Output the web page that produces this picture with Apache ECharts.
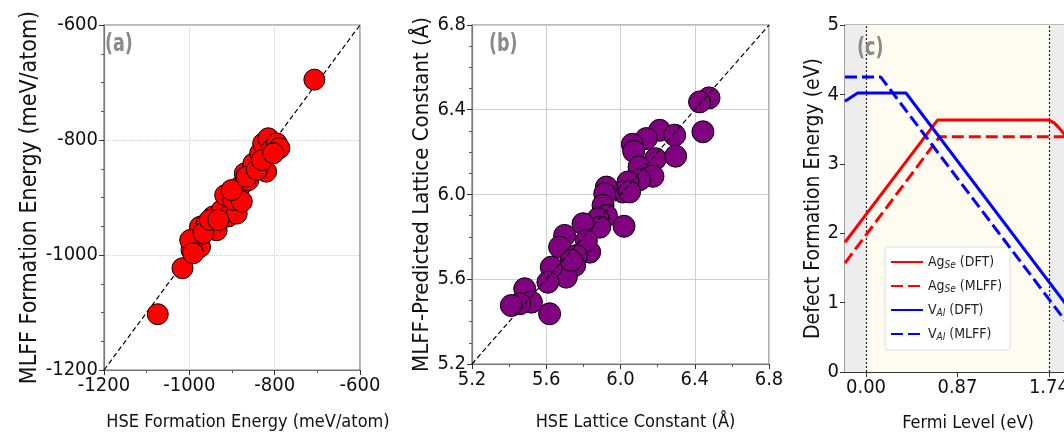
<!DOCTYPE html>
<html><head><meta charset="utf-8">
<script src="https://cdn.jsdelivr.net/npm/echarts@6/dist/echarts.min.js"></script>
<style>html,body{margin:0;padding:0;background:#fff}#c{width:1064px;height:435px}</style>
</head><body><div id="c"></div>
<script>
// Panel (a): formation energies (meV/atom)
const aHSE  = [-707,-1074,-1016,-995,-975,-983,-975,-959,-936,-944,-924,-916,-909,-889,-897,-881,-877,-870,-862,-850,-834,-827,-815,-807,-795,-789,-820,-998,-991,-967,-952,-932,-901,-866,-842,-830,-803];
const aMLFF = [-695,-1103,-1023,-991,-986,-968,-951,-945,-957,-933,-922,-896,-933,-928,-904,-881,-907,-858,-870,-841,-823,-806,-797,-817,-806,-814,-855,-974,-997,-962,-939,-939,-887,-864,-852,-835,-823];
const aRange = [-1200, -600];
// Panel (b): lattice constants (Å)
const bHSE  = [6.477,6.426,6.444,6.211,6.292,6.139,6.064,6.071,6.189,6.297,6.100,6.175,6.103,6.040,6.013,6.049,5.924,5.915,5.906,5.924,5.879,5.888,6.019,5.798,5.834,5.816,5.699,5.672,5.762,5.753,5.708,5.627,5.609,5.618,5.484,5.520,5.457,5.412,5.735];
const bMLFF = [6.456,6.437,6.296,6.303,6.280,6.264,6.237,6.204,6.169,6.181,6.130,6.086,6.070,6.059,6.012,6.012,6.035,6.004,5.949,5.901,5.886,5.846,5.850,5.862,5.728,5.783,5.807,5.752,5.712,5.665,5.610,5.657,5.586,5.437,5.555,5.492,5.484,5.476,5.689];
const bRange = [5.2, 6.8];
// Panel (c): defect formation energy vs Fermi level (plot continues past the picture's right edge)
const fermiTicks = [0, 0.87, 1.74];
const fermiRange = [-0.2, 2.14];
const agDFT_x  = [-0.2, 0.68, 1.74, 1.79, 1.84, 1.90, 2.14];
const agDFT_y  = [1.87, 3.63, 3.63, 3.59, 3.51, 3.40, 2.92];
const agMLFF_x = [-0.2, 0.70, 2.14];
const agMLFF_y = [1.57, 3.39, 3.39];
const vDFT_x   = [-0.2, -0.08, 0.38, 2.14];
const vDFT_y   = [3.90, 4.02, 4.02, 0.50];
const vMLFF_x  = [-0.2, 0.14, 2.14];
const vMLFF_y  = [4.25, 4.25, 0.25];
const seriesNames = ['Ag_Se (DFT)', 'Ag_Se (MLFF)', 'V_Al (DFT)', 'V_Al (MLFF)'];

const FONT = "'Liberation Sans Narrow', 'DejaVu Sans Condensed', 'Liberation Sans', sans-serif";
const zip = (xs, ys) => xs.map((x, i) => [x, ys[i]]);
const frame = '#777';

function sqAxis(gi, range, interval, split, splitType, labelFmt, name, nameGap, nameSize, namePad) {
  return {
    gridIndex: gi, type: 'value', min: range[0], max: range[1], interval: interval,
    name: name, nameLocation: 'middle', nameGap: nameGap,
    nameTextStyle: { fontFamily: FONT, fontSize: nameSize, color: '#111', padding: namePad || 0 },
    axisLine: { show: true, onZero: false, lineStyle: { color: frame, width: 1.2 } },
    axisTick: { show: true, length: 5, lineStyle: { color: '#333' } },
    minorTick: { show: true, splitNumber: split, length: 3, lineStyle: { color: '#555' } },
    axisLabel: { fontFamily: FONT, fontSize: 20, color: '#111', formatter: labelFmt, margin: 6 },
    splitLine: { show: true, lineStyle: { color: '#cfcfcf', type: splitType, width: 1 } }
  };
}

const chart = echarts.init(document.getElementById('c'), null, { renderer: 'canvas' });

const legendFmt = n => {
  const m = n.match(/^(\w+)_(\w+) (.*)$/);
  return '{n|' + m[1] + '}{s|' + m[2] + '}{n| ' + m[3] + '}';
};

const panelLabel = (t, x, y) => ({ type: 'text', x: x, y: y, scaleX: 0.78, z: 100,
  style: { text: t, font: "bold 25px " + FONT, fill: '#8a8a8a' } });

chart.setOption({
  animation: false,
  backgroundColor: '#fff',
  grid: [
    { left: 104, top: 25, width: 256, height: 345, show: true, borderColor: frame, borderWidth: 1.2, outerBoundsMode: 'none', containLabel: false },
    { left: 472, top: 25, width: 297, height: 339, show: true, borderColor: frame, borderWidth: 1.2, outerBoundsMode: 'none', containLabel: false },
    { left: 845, top: 25, width: 246, height: 347, show: true, borderColor: frame, borderWidth: 1.2, outerBoundsMode: 'none', containLabel: false }
  ],
  xAxis: [
    sqAxis(0, aRange, 200, 2, 'dotted', v => String(v), 'HSE Formation Energy (meV/atom)', 43, 18, [0, 0, 0, 32]),
    sqAxis(1, bRange, 0.4, 2, 'solid', v => v.toFixed(1), 'HSE Lattice Constant (Å)', 49, 18, [0, 0, 0, 30]),
    {
      gridIndex: 2, type: 'value', min: fermiRange[0], max: fermiRange[1],
      name: 'Fermi Level (eV)', nameLocation: 'middle', nameGap: 42,
      nameTextStyle: { fontFamily: FONT, fontSize: 18, color: '#111' },
      axisLine: { show: true, onZero: false, lineStyle: { color: '#333', width: 1.2 } },
      axisTick: { show: true, length: 5, customValues: fermiTicks, lineStyle: { color: '#333' } },
      axisLabel: { fontFamily: FONT, fontSize: 20, color: '#111', customValues: fermiTicks, formatter: v => v.toFixed(2), margin: 6 },
      splitLine: { show: false }
    }
  ],
  yAxis: [
    sqAxis(0, aRange, 200, 4, 'dotted', v => String(v), 'MLFF Formation Energy (meV/atom)', 50, 23),
    sqAxis(1, bRange, 0.4, 4, 'solid', v => v.toFixed(1), 'MLFF-Predicted Lattice Constant (Å)', 38, 22),
    {
      gridIndex: 2, type: 'value', min: 0, max: 5, interval: 1,
      name: 'Defect Formation Energy (eV)', nameLocation: 'middle', nameGap: 19,
      nameTextStyle: { fontFamily: FONT, fontSize: 21, color: '#111' },
      axisLine: { show: true, onZero: false, lineStyle: { color: '#333', width: 1.2 } },
      axisTick: { show: true, length: 5, lineStyle: { color: '#333' } },
      axisLabel: { fontFamily: FONT, fontSize: 20, color: '#111', margin: 6 },
      splitLine: { show: false }
    }
  ],
  legend: {
    data: seriesNames,
    left: 885, top: 247, orient: 'vertical',
    itemWidth: 32, itemHeight: 10, itemGap: 9,
    padding: [8, 8, 8, 5],
    backgroundColor: '#fff', borderColor: '#ddd', borderWidth: 1, borderRadius: 3,
    itemStyle: { opacity: 0 },
    formatter: legendFmt,
    textStyle: {
      fontFamily: FONT, fontSize: 14, color: '#222',
      rich: {
        n: { fontFamily: FONT, fontSize: 14, color: '#222' },
        s: { fontFamily: FONT, fontSize: 10, fontStyle: 'italic', color: '#222', verticalAlign: 'bottom', padding: [6, 0, 0, 0] }
      }
    }
  },
  graphic: [
    panelLabel('(a)', 105, 32),
    panelLabel('(b)', 489, 32),
    panelLabel('(c)', 857, 36)
  ],
  series: [
    { type: 'line', xAxisIndex: 0, yAxisIndex: 0, data: [[aRange[0], aRange[0]], [aRange[1], aRange[1]]],
      symbol: 'none', lineStyle: { color: '#000', width: 1.2, type: [5, 3] }, z: 1, silent: true },
    { type: 'scatter', xAxisIndex: 0, yAxisIndex: 0, data: zip(aHSE, aMLFF), symbolSize: 21,
      itemStyle: { color: '#ff0000', borderColor: '#000', borderWidth: 1, opacity: 1 }, z: 2 },
    { type: 'line', xAxisIndex: 1, yAxisIndex: 1, data: [[bRange[0], bRange[0]], [bRange[1], bRange[1]]],
      symbol: 'none', lineStyle: { color: '#000', width: 1.2, type: [5, 3] }, z: 3, silent: true },
    { type: 'scatter', xAxisIndex: 1, yAxisIndex: 1, data: zip(bHSE, bMLFF), symbolSize: 22,
      itemStyle: { color: '#800080', borderColor: '#000', borderWidth: 1, opacity: 1 }, z: 2 },
    { type: 'line', name: seriesNames[0], xAxisIndex: 2, yAxisIndex: 2, data: zip(agDFT_x, agDFT_y),
      symbol: 'none', color: '#ff0000', lineStyle: { color: '#ff0000', width: 3 }, z: 5,
      markArea: { silent: true, data: [
        [{ xAxis: fermiRange[0], itemStyle: { color: '#ededed' } }, { xAxis: fermiTicks[0] }],
        [{ xAxis: fermiTicks[0], itemStyle: { color: '#fefcf0' } }, { xAxis: fermiTicks[2] }],
        [{ xAxis: fermiTicks[2], itemStyle: { color: '#ededed' } }, { xAxis: fermiRange[1] }]
      ] },
      markLine: { silent: true, symbol: 'none', label: { show: false },
        lineStyle: { color: '#222', type: [2, 2], width: 1.2 },
        data: [{ xAxis: fermiTicks[0] }, { xAxis: fermiTicks[2] }] } },
    { type: 'line', name: seriesNames[1], xAxisIndex: 2, yAxisIndex: 2, data: zip(agMLFF_x, agMLFF_y),
      symbol: 'none', color: '#ff0000', lineStyle: { color: '#ff0000', width: 3, type: [12, 5] }, z: 5 },
    { type: 'line', name: seriesNames[2], xAxisIndex: 2, yAxisIndex: 2, data: zip(vDFT_x, vDFT_y),
      symbol: 'none', color: '#0000ff', lineStyle: { color: '#0000ff', width: 3 }, z: 5 },
    { type: 'line', name: seriesNames[3], xAxisIndex: 2, yAxisIndex: 2, data: zip(vMLFF_x, vMLFF_y),
      symbol: 'none', color: '#0000ff', lineStyle: { color: '#0000ff', width: 3, type: [12, 5] }, z: 5 }
  ]
});
</script>
</body></html>
